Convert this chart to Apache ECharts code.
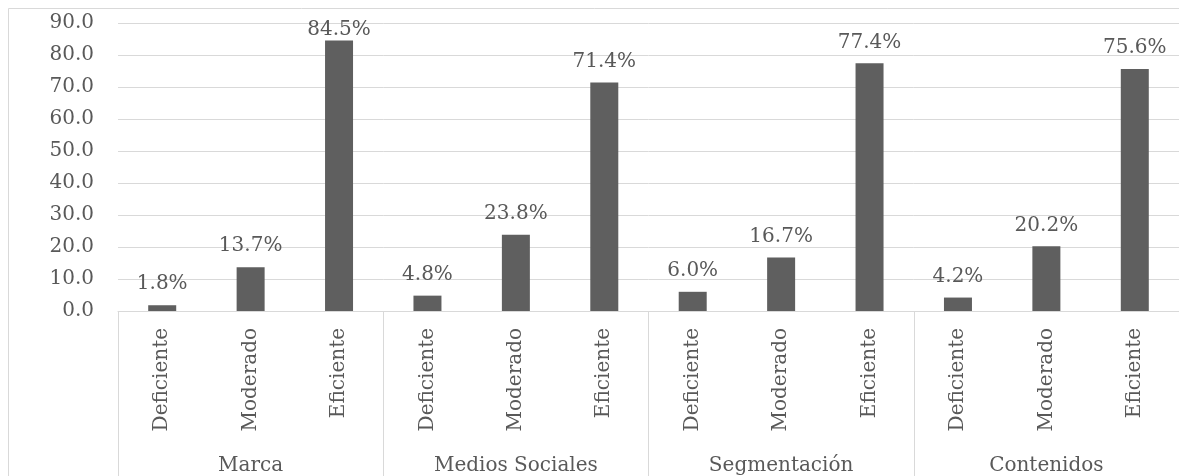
<!DOCTYPE html>
<html>
<head>
<meta charset="utf-8">
<script src="https://cdn.jsdelivr.net/npm/echarts@6/dist/echarts.min.js"></script>
<style>
html,body{margin:0;padding:0;background:#fff;}
#c{width:1179px;height:476px;}
</style>
</head>
<body>
<div id="c"></div>
<script>
const groups = ['Marca', 'Medios Sociales', 'Segmentación', 'Contenidos'];
const levels = ['Deficiente', 'Moderado', 'Eficiente'];
const marca = [1.8, 13.7, 84.5];
const mediosSociales = [4.8, 23.8, 71.4];
const segmentacion = [6.0, 16.7, 77.4];
const contenidos = [4.2, 20.2, 75.6];
const yTicks = [0, 10, 20, 30, 40, 50, 60, 70, 80, 90];

const groupValues = [marca, mediosSociales, segmentacion, contenidos];
const innerCats = [];
const values = [];
groups.forEach((g, gi) => {
  levels.forEach((l, li) => {
    innerCats.push(l);
    const v = groupValues[gi][li];
    // labels near the top of the plot are pushed down (kept inside the plot area)
    values.push(v > 80 ? { value: v, label: { distance: 1 } } : v);
  });
});

const FONT = 'DejaVu Serif';
const TXT = '#595959';
const GRID = '#d9d9d9';

const chart = echarts.init(document.getElementById('c'));
chart.setOption({
  animation: false,
  backgroundColor: '#fff',
  textStyle: { fontFamily: FONT },
  graphic: [{
    type: 'rect',
    shape: { x: 8.5, y: 8.5, width: 1200, height: 500 },
    style: { fill: 'none', stroke: GRID, lineWidth: 1 },
    silent: true, z: -10
  }],
  grid: { left: 118, top: 23, width: 1062, height: 290, containLabel: false },
  xAxis: [{
    type: 'category',
    data: innerCats,
    position: 'bottom',
    axisLine: { show: true, lineStyle: { color: GRID, width: 1 } },
    axisTick: { show: false },
    axisLabel: { interval: 0, rotate: 90, margin: 17, color: TXT, fontSize: 20, fontFamily: FONT }
  }, {
    type: 'category',
    data: groups,
    position: 'bottom',
    axisLine: { show: false },
    axisTick: { show: true, length: 170, interval: 0, lineStyle: { color: GRID, width: 1 } },
    axisLabel: { interval: 0, margin: 145, color: TXT, fontSize: 20, fontFamily: FONT },
    splitLine: { show: false }
  }],
  yAxis: {
    type: 'value',
    min: yTicks[0],
    max: yTicks[yTicks.length - 1],
    interval: yTicks[1] - yTicks[0],
    axisLine: { show: false },
    axisTick: { show: false },
    axisLabel: { margin: 24, color: TXT, fontSize: 20, fontFamily: FONT, formatter: v => v.toFixed(1) },
    splitLine: { lineStyle: { color: GRID, width: 1 } }
  },
  series: [{
    type: 'bar',
    xAxisIndex: 0,
    data: values,
    barWidth: 28,
    itemStyle: { color: '#5f5f5f' },
    label: {
      show: true, position: 'top', distance: 11,
      color: TXT, fontSize: 20, fontFamily: FONT,
      formatter: p => p.value.toFixed(1) + '%'
    }
  }]
});
</script>
</body>
</html>
